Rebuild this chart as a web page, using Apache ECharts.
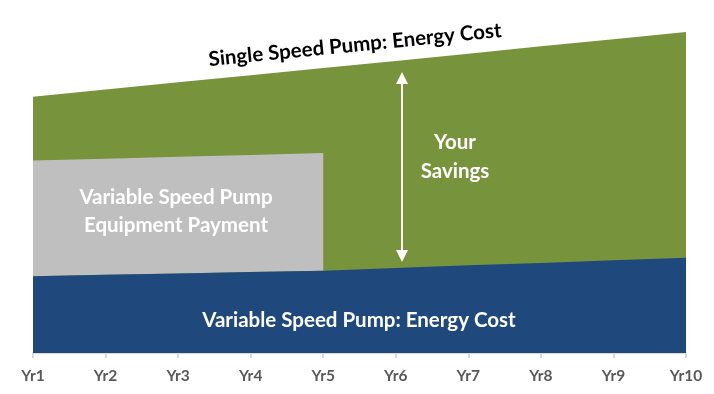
<!DOCTYPE html>
<html>
<head>
<meta charset="utf-8">
<script src="https://cdn.jsdelivr.net/npm/echarts@6/dist/echarts.min.js"></script>
<style>html,body{margin:0;padding:0;background:#fff}#c{width:714px;height:394px}</style>
</head>
<body>
<div id="c"></div>
<script>
var categories = ['Yr1','Yr2','Yr3','Yr4','Yr5','Yr6','Yr7','Yr8','Yr9','Yr10'];
var singleSpeedCost = [75.4, 77.5, 79.6, 81.7, 83.8, 85.9, 88.0, 90.2, 92.3, 94.4];
var variableSpeedCost = [22.6, 23.0, 23.4, 23.8, 24.2, 25.0, 25.8, 26.5, 27.3, 28.0];
var equipmentPayment = [34.0, 34.1, 34.3, 34.4, 34.6, '-', '-', '-', '-', '-'];

var FONT = 'Lato';
var chart = echarts.init(document.getElementById('c'));
chart.setOption({
  animation: false,
  grid: {left: 33, right: 28, top: 13, bottom: 41},
  xAxis: {
    type: 'category', data: categories, boundaryGap: false,
    axisLine: {lineStyle: {color: '#D9D9D9', width: 2}},
    axisTick: {show: true, length: 5, lineStyle: {color: '#D9D9D9', width: 2}},
    axisLabel: {color: '#595959', fontFamily: FONT, fontWeight: 'bold', fontSize: 15.5, margin: 15}
  },
  yAxis: {
    type: 'value', min: 0, max: 100, show: false,
    splitLine: {show: false}
  },
  series: [
    {name: 'Single Speed Pump: Energy Cost', type: 'line', data: singleSpeedCost,
     symbol: 'none', lineStyle: {width: 0}, areaStyle: {color: '#77933C', opacity: 1}, z: 1},
    {name: 'Variable Speed Pump: Energy Cost', type: 'line', stack: 'v', data: variableSpeedCost,
     symbol: 'none', lineStyle: {width: 0}, areaStyle: {color: '#1F497D', opacity: 1}, z: 3},
    {name: 'Variable Speed Pump Equipment Payment', type: 'line', stack: 'v', data: equipmentPayment,
     symbol: 'none', lineStyle: {width: 0}, areaStyle: {color: '#BFBFBF', opacity: 1}, z: 2}
  ],
  graphic: [
    {type: 'text', x: 355, y: 45, rotation: 0.0995, z: 10,
     style: {text: 'Single Speed Pump: Energy Cost', fill: '#000', font: 'bold 20.5px ' + FONT, align: 'center', verticalAlign: 'middle'}},
    {type: 'text', x: 455, y: 157, z: 10,
     style: {text: 'Your\nSavings', fill: '#fff', font: 'bold 20.5px ' + FONT, lineHeight: 29, align: 'center', verticalAlign: 'middle'}},
    {type: 'text', x: 176, y: 211, z: 10,
     style: {text: 'Variable Speed Pump\nEquipment Payment', fill: '#fff', font: 'bold 20.5px ' + FONT, lineHeight: 28, align: 'center', verticalAlign: 'middle'}},
    {type: 'text', x: 359, y: 320, z: 10,
     style: {text: 'Variable Speed Pump: Energy Cost', fill: '#fff', font: 'bold 20.5px ' + FONT, align: 'center', verticalAlign: 'middle'}},
    {type: 'line', z: 10, shape: {x1: 402, y1: 80, x2: 402, y2: 254}, style: {stroke: '#fff', lineWidth: 2}},
    {type: 'polygon', z: 10, shape: {points: [[402, 72], [396, 84], [408, 84]]}, style: {fill: '#fff'}},
    {type: 'polygon', z: 10, shape: {points: [[402, 262], [396, 250], [408, 250]]}, style: {fill: '#fff'}}
  ]
});
</script>
</body>
</html>
